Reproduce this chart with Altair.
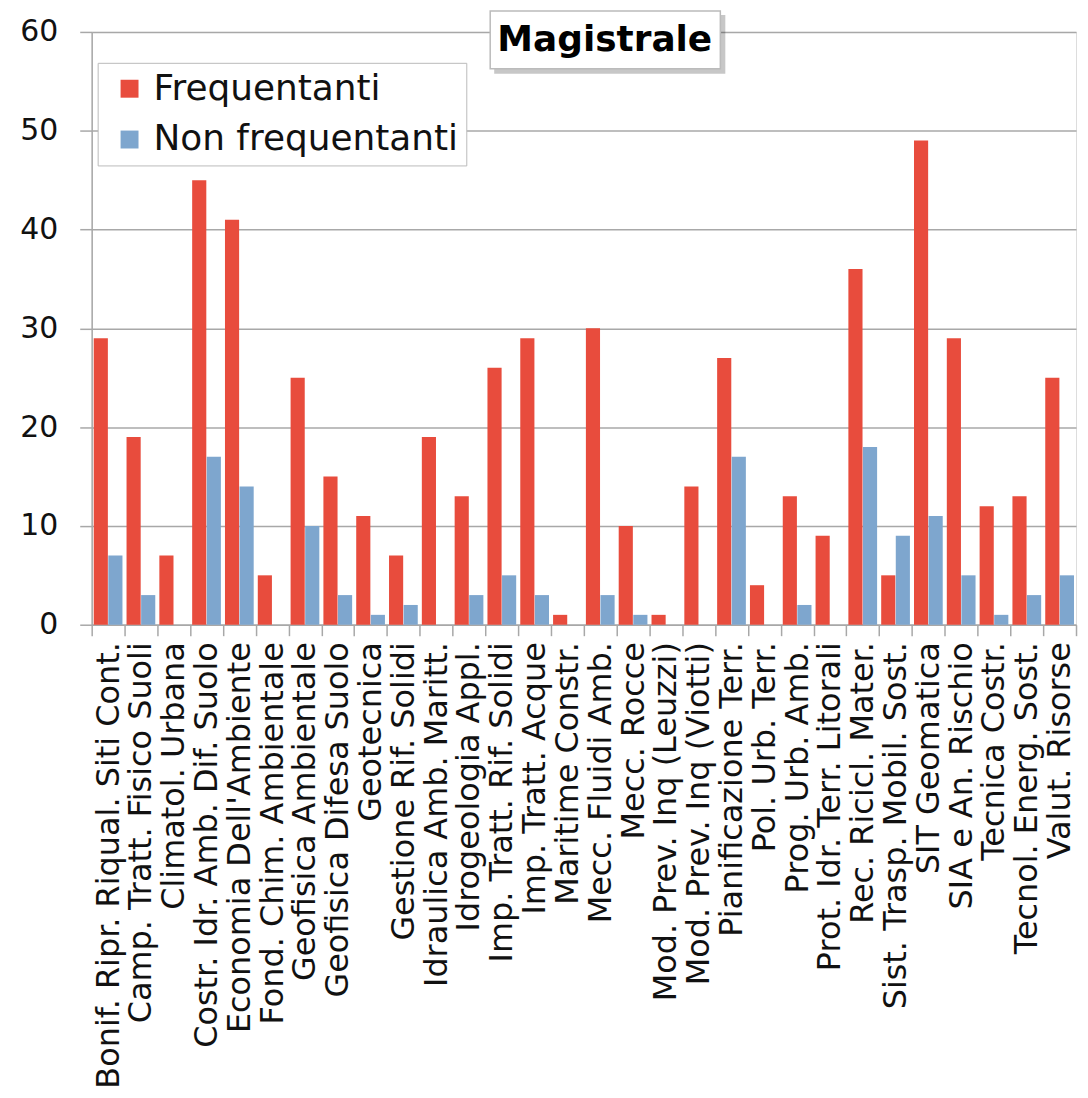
import altair as alt
import pandas as pd

categories = [
    "Bonif. Ripr. Riqual. Siti Cont.",
    "Camp. Tratt. Fisico Suoli",
    "Climatol. Urbana",
    "Costr. Idr. Amb. Dif. Suolo",
    "Economia Dell'Ambiente",
    "Fond. Chim. Ambientale",
    "Geofisica Ambientale",
    "Geofisica Difesa Suolo",
    "Geotecnica",
    "Gestione Rif. Solidi",
    "Idraulica Amb. Maritt.",
    "Idrogeologia Appl.",
    "Imp. Tratt. Rif. Solidi",
    "Imp. Tratt. Acque",
    "Maritime Constr.",
    "Mecc. Fluidi Amb.",
    "Mecc. Rocce",
    "Mod. Prev. Inq (Leuzzi)",
    "Mod. Prev. Inq (Viotti)",
    "Pianificazione Terr.",
    "Pol. Urb. Terr.",
    "Prog. Urb. Amb.",
    "Prot. Idr. Terr. Litorali",
    "Rec. Ricicl. Mater.",
    "Sist. Trasp. Mobil. Sost.",
    "SIT Geomatica",
    "SIA e An. Rischio",
    "Tecnica Costr.",
    "Tecnol. Energ. Sost.",
    "Valut. Risorse",
]
frequentanti = [29, 19, 7, 45, 41, 5, 25, 15, 11, 7, 19, 13, 26, 29, 1,
                30, 10, 1, 14, 27, 4, 13, 9, 36, 5, 49, 29, 12, 13, 25]
non_frequentanti = [7, 3, 0, 17, 14, 0, 10, 3, 1, 2, 0, 3, 5, 3, 0,
                    3, 1, 0, 0, 17, 0, 2, 0, 18, 9, 11, 5, 1, 3, 5]
series = ["Frequentanti", "Non frequentanti"]
colors = ["#E84C3D", "#7EA6CE"]
y_ticks = [0, 10, 20, 30, 40, 50, 60]
title_text = ["Magistrale"]

rows = []
for c, f, n in zip(categories, frequentanti, non_frequentanti):
    rows.append({"corso": c, "serie": series[0], "valore": f})
    rows.append({"corso": c, "serie": series[1], "valore": n})
df = pd.DataFrame(rows)

FONT = "DejaVu Sans"
GRID = "#A8A8A8"

bars = alt.Chart(df).mark_bar().encode(
    x=alt.X(
        "corso:N",
        sort=categories,
        scale=alt.Scale(paddingInner=0, paddingOuter=0),
        axis=alt.Axis(
            title=None, labelAngle=-90, labelFontSize=32, labelFont=FONT,
            labelColor="#111111", labelLimit=700, tickBand="extent",
            tickSize=11, tickColor=GRID, tickWidth=1.5, domainColor=GRID,
            domainWidth=1.5, labelPadding=6, grid=False,
        ),
    ),
    xOffset=alt.XOffset(
        "serie:N", sort=series,
        scale=alt.Scale(paddingInner=0.03, paddingOuter=0.14),
    ),
    y=alt.Y(
        "valore:Q",
        scale=alt.Scale(domain=[0, 60], nice=False),
        axis=alt.Axis(
            values=y_ticks, title=None, labelFontSize=30, labelFont=FONT,
            labelColor="#111111", tickSize=12, tickColor=GRID, tickWidth=1.5,
            domainColor=GRID, domainWidth=1.5, labelPadding=22,
            gridColor=GRID, gridWidth=1.5,
        ),
    ),
    color=alt.Color(
        "serie:N", sort=series,
        scale=alt.Scale(domain=series, range=colors),
        legend=alt.Legend(
            title=None, orient="none", legendX=6, legendY=31,
            labelFontSize=36, labelFont=FONT, labelColor="#111111",
            symbolType="square", symbolSize=324, symbolStrokeWidth=0,
            symbolOffset=6, rowPadding=15, labelOffset=6, padding=8,
            strokeColor="#BBBBBB", fillColor="white", labelLimit=500,
        ),
    ),
)

tdf = pd.DataFrame({"t": title_text})
shadow = alt.Chart(tdf).mark_rect(color="#000000", opacity=0.22).encode(
    x=alt.value(404), x2=alt.value(636), y=alt.value(-17), y2=alt.value(42)
)
box = alt.Chart(tdf).mark_rect(fill="white", stroke="#BBBBBB", strokeWidth=1.5).encode(
    x=alt.value(400), x2=alt.value(631), y=alt.value(-21), y2=alt.value(37)
)
title = alt.Chart(tdf).mark_text(
    font=FONT, fontSize=36, fontWeight="bold", color="black",
    align="center", baseline="middle",
).encode(x=alt.value(515), y=alt.value(8), text="t:N")

chart = alt.layer(bars, shadow, box, title).properties(
    width=988, height=595,
    autosize=alt.AutoSizeParams(type="none"),
    padding={"left": 84, "top": 22, "right": 4, "bottom": 468},
).configure_view(stroke=GRID, strokeWidth=1.5).configure(background="white")

chart.save("out.html", embed_options={"renderer": "svg", "actions": False})
